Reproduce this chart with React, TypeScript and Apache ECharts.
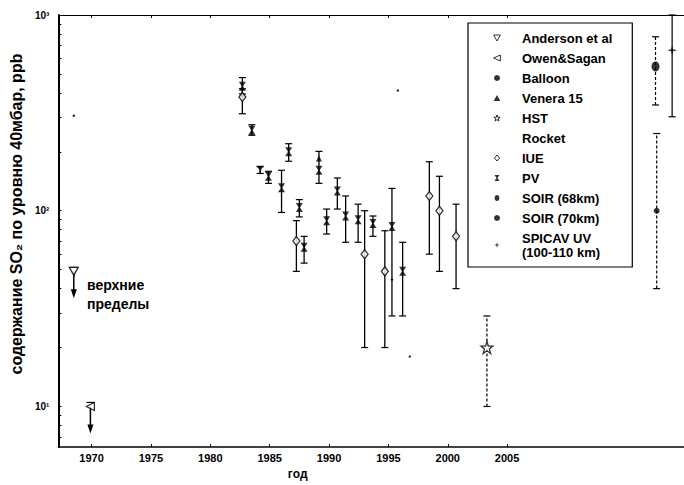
import React, { useEffect, useRef } from "react";
import * as echarts from "echarts";

// ---- tick labels / tick positions ----
const xTickYears = [1970, 1975, 1980, 1985, 1990, 1995, 2000, 2005];
const yTickValues = [10, 100, 1000];
const yTickMarks = [7, 8, 9, 10, 20, 30, 40, 50, 60, 70, 80, 90, 100, 200, 300, 400, 500, 600, 700, 800, 900, 1000];

// ---- data: [year, value] for upper limits and single points ----
const andersonLimits = [[1968.5, 49]];
const owenSaganLimits = [[1969.9, 10]];
const balloonPoints = [[1968.5, 306], [1995.8, 411], [1995.3, 44.5], [1996.8, 18]];
const veneraPoints = [[1982.7, 394], [1989.15, 185]];

// ---- data: [year, value, low, high] ----
const hstPoints = [[2003.3, 20, 10, 29]];
const rocketPoints = [[1984.2, 162, 155, 168]];
const iuePoints = [
  [1982.7, 381, 313, 420],
  [1987.25, 70, 49, 89],
  [1993.0, 60, 20, 100],
  [1994.7, 49, 20, 79],
  [1998.45, 119, 60, 178],
  [1999.3, 100, 49, 150],
  [2000.7, 74, 40, 108],
];
const pvPoints = [
  [1982.7, 433, 395, 479],
  [1983.5, 258, 243, 275],
  [1984.9, 150, 138, 159],
  [1986.0, 131, 98, 161],
  [1986.6, 200, 179, 220],
  [1987.5, 104, 93, 114],
  [1987.9, 65, 54, 74],
  [1989.15, 161, 138, 201],
  [1989.8, 89, 76, 102],
  [1990.7, 126, 102, 147],
  [1991.4, 94, 69, 119],
  [1992.45, 90, 69, 108],
  [1993.7, 86, 74, 94],
  [1995.3, 83, 29, 130],
  [1996.2, 49, 29, 69],
];
const soir68Points = [[2017.5, 546, 347, 774]];
const soir70Points = [[2017.6, 100, 40, 248]];
const spicavPoints = [[2018.9, 660, 302, 1000]];

const FONT = '"Liberation Sans", Arial, sans-serif';

const SYM = {
  anderson: "path://M0,0 L10,0 L5,9 Z",
  owen: "path://M10,0 L0,4.5 L10,9 Z",
  rocket: "path://M0,0 L10,0 L6,5 L6,9 L9,9 L9,10 L1,10 L1,9 L4,9 L4,5 Z",
  bowtie: "path://M0,0 L10,0 L6,6 L10,12 L0,12 L4,6 Z",
  star5: "path://M5,0 L6.2,3.6 L10,3.6 L7,5.9 L8.1,9.5 L5,7.3 L1.9,9.5 L3,5.9 L0,3.6 L3.8,3.6 Z",
  star4: "path://M5,0 L6,4 L10,5 L6,6 L5,10 L4,6 L0,5 L4,4 Z",
  ellipse: "path://M4,0 C6.2,0 8,2.2 8,5 C8,7.8 6.2,10 4,10 C1.8,10 0,7.8 0,5 C0,2.2 1.8,0 4,0 Z",
  diamond: "path://M5,0 L10,6 L5,12 L0,6 Z",
  triangle: "path://M5,0 L10,9 L0,9 Z",
};

function errorBars(name: string, data: number[][], dashed: boolean, width: number) {
  return {
    type: "custom",
    name,
    data,
    z: 2,
    silent: true,
    encode: { x: 0, y: 1 },
    renderItem: (_params: any, api: any) => {
      const x = api.value(0);
      const lo = api.coord([x, api.value(2)]);
      const hi = api.coord([x, api.value(3)]);
      const cap = 3.5;
      const capStyle = { stroke: "#000", lineWidth: 1.2 };
      return {
        type: "group",
        children: [
          {
            type: "line",
            shape: { x1: lo[0], y1: lo[1], x2: hi[0], y2: hi[1] },
            style: { stroke: "#000", lineWidth: width, lineDash: dashed ? [3, 2] : null },
          },
          { type: "line", shape: { x1: lo[0] - cap, y1: lo[1], x2: lo[0] + cap, y2: lo[1] }, style: capStyle },
          { type: "line", shape: { x1: hi[0] - cap, y1: hi[1], x2: hi[0] + cap, y2: hi[1] }, style: capStyle },
        ],
      };
    },
  };
}

function limitArrows(name: string, data: number[][]) {
  return {
    type: "custom",
    name,
    data,
    z: 2,
    silent: true,
    encode: { x: 0, y: 1 },
    renderItem: (_params: any, api: any) => {
      const p = api.coord([api.value(0), api.value(1)]);
      const len = 27;
      return {
        type: "group",
        children: [
          { type: "line", shape: { x1: p[0] - 4, y1: p[1] - 4, x2: p[0] + 4, y2: p[1] - 4 }, style: { stroke: "#000", lineWidth: 1.2 } },
          { type: "line", shape: { x1: p[0], y1: p[1], x2: p[0], y2: p[1] + len - 6 }, style: { stroke: "#000", lineWidth: 1.5 } },
          {
            type: "polygon",
            shape: { points: [[p[0] - 3, p[1] + len - 9], [p[0] + 3, p[1] + len - 9], [p[0], p[1] + len]] },
            style: { fill: "#000" },
          },
        ],
      };
    },
  };
}

function scatter(name: string, data: number[][], symbol: string, size: any, style: any) {
  return {
    type: "scatter",
    name,
    data,
    encode: { x: 0, y: 1 },
    symbol,
    symbolSize: size,
    symbolKeepAspect: false,
    itemStyle: style,
    z: 3,
    silent: true,
  };
}

const black = { color: "#000" };
const hollow = { color: "#fff", borderColor: "#000", borderWidth: 1.3 };
const hollowIcon = { color: "#fff", borderColor: "#000", borderWidth: 1 };

export default function App() {
  const ref = useRef<HTMLDivElement>(null);
  useEffect(() => {
    if (!ref.current) return;
    const chart = echarts.init(ref.current, null, { renderer: "svg" });
    const supers: Record<number, string> = { 10: "10¹", 100: "10²", 1000: "10³" };
    const xAxisCommon = {
      type: "value",
      min: 1967.2,
      max: 2019.9,
      splitLine: { show: false },
    };
    chart.setOption({
      animation: false,
      backgroundColor: "#fff",
      textStyle: { fontFamily: FONT },
      grid: { left: 55, right: 0, top: 15, bottom: 33, containLabel: false },
      xAxis: [
        {
          ...xAxisCommon,
          position: "bottom",
          name: "год",
          nameLocation: "middle",
          nameGap: 15,
          nameTextStyle: { fontFamily: FONT, fontSize: 12, fontWeight: "bold", color: "#000", padding: [0, 147, 0, 0] },
          axisLine: { show: true, onZero: false, lineStyle: { color: "#000", width: 1.5 } },
          axisTick: { show: true, inside: true, length: 3, customValues: xTickYears, lineStyle: { color: "#000" } },
          axisLabel: {
            customValues: xTickYears,
            margin: 5,
            fontFamily: FONT,
            fontSize: 11,
            fontWeight: "bold",
            color: "#000",
            formatter: (v: number) => (v <= 2005 ? String(v) : ""),
          },
        },
        {
          ...xAxisCommon,
          position: "top",
          axisLine: { show: true, onZero: false, lineStyle: { color: "#000", width: 1 } },
          axisTick: { show: true, inside: true, length: 3, customValues: xTickYears, lineStyle: { color: "#000" } },
          axisLabel: { show: false },
        },
      ],
      yAxis: {
        type: "log",
        logBase: 10,
        min: 6.2,
        max: 1000,
        name: "содержание SO₂ по уровню 40мбар, ppb",
        nameLocation: "middle",
        nameGap: 34,
        nameRotate: 90,
        nameTextStyle: { fontFamily: FONT, fontSize: 16, fontWeight: "bold", color: "#000", padding: [0, 0, 0, 34] },
        splitLine: { show: false },
        axisLine: { show: true, lineStyle: { color: "#000", width: 2 } },
        axisTick: { show: true, inside: true, length: 3, customValues: yTickMarks, lineStyle: { color: "#000" } },
        axisLabel: {
          customValues: yTickValues,
          margin: 9,
          fontFamily: FONT,
          fontSize: 10,
          fontWeight: "bold",
          color: "#000",
          formatter: (v: number) => supers[Math.round(v)] || "",
        },
      },
      legend: {
        orient: "vertical",
        left: 468,
        top: 23,
        selectedMode: false,
        backgroundColor: "#fff",
        borderColor: "#000",
        borderWidth: 1.2,
        borderRadius: 0,
        padding: [8, 20, 8, 9],
        itemWidth: 40,
        itemHeight: 6,
        itemGap: 6,
        textStyle: { fontFamily: FONT, fontSize: 13, fontWeight: "bold", color: "#000", lineHeight: 14 },
        formatter: (n: string) => (n === "SPICAV UV (100-110 km)" ? "SPICAV UV\n(100-110 km)" : n),
        data: [
          { name: "Anderson et al", icon: SYM.anderson, itemStyle: hollowIcon },
          { name: "Owen&Sagan", icon: SYM.owen, itemStyle: hollowIcon },
          { name: "Balloon", icon: "circle", itemStyle: { color: "#000" } },
          { name: "Venera 15", icon: SYM.triangle, itemStyle: { color: "#000" } },
          { name: "HST", icon: SYM.star5, itemStyle: hollowIcon },
          { name: "Rocket", icon: "none" },
          { name: "IUE", icon: SYM.diamond, itemStyle: hollowIcon },
          { name: "PV", icon: SYM.bowtie, itemStyle: { color: "#000" } },
          { name: "SOIR (68km)", icon: SYM.ellipse, itemStyle: { color: "#000" } },
          { name: "SOIR (70km)", icon: "circle", itemStyle: { color: "#000" } },
          { name: "SPICAV UV (100-110 km)", icon: SYM.star4, itemStyle: { color: "#000" } },
        ],
      },
      graphic: [
        {
          type: "text",
          left: 87,
          top: 275,
          style: {
            text: "верхние\nпределы",
            font: `bold 14px ${FONT}`,
            fill: "#000",
            lineHeight: 19,
          },
        },
      ],
      series: [
        errorBars("pv-err", pvPoints, false, 1.3),
        errorBars("iue-err", iuePoints, false, 1.3),
        errorBars("hst-err", hstPoints, true, 1.2),
        errorBars("rocket-err", rocketPoints, false, 1.2),
        errorBars("soir68-err", soir68Points, true, 1.2),
        errorBars("soir70-err", soir70Points, true, 1.2),
        errorBars("spicav-err", spicavPoints, false, 1.2),
        limitArrows("anderson-arrow", andersonLimits),
        limitArrows("owen-arrow", owenSaganLimits),
        scatter("Anderson et al", andersonLimits, SYM.anderson, [9, 8], hollow),
        scatter("Owen&Sagan", owenSaganLimits, SYM.owen, [8, 8], hollow),
        scatter("Balloon", balloonPoints, "circle", 2.5, black),
        scatter("Venera 15", veneraPoints, SYM.triangle, [6, 6], black),
        scatter("HST", hstPoints, SYM.star5, 12, hollow),
        scatter("Rocket", rocketPoints, SYM.rocket, [8, 8], black),
        scatter("IUE", iuePoints, SYM.diamond, [7, 9], hollow),
        scatter("PV", pvPoints, SYM.bowtie, [7, 9], black),
        scatter("SOIR (68km)", soir68Points, SYM.ellipse, [8, 10], black),
        scatter("SOIR (70km)", soir70Points, "circle", 6, black),
        scatter("SPICAV UV (100-110 km)", spicavPoints, SYM.star4, 10, black),
      ],
    });
    return () => chart.dispose();
  }, []);
  return <div ref={ref} style={{ position: "fixed", left: 0, top: 0, width: 684, height: 485 }} />;
}
